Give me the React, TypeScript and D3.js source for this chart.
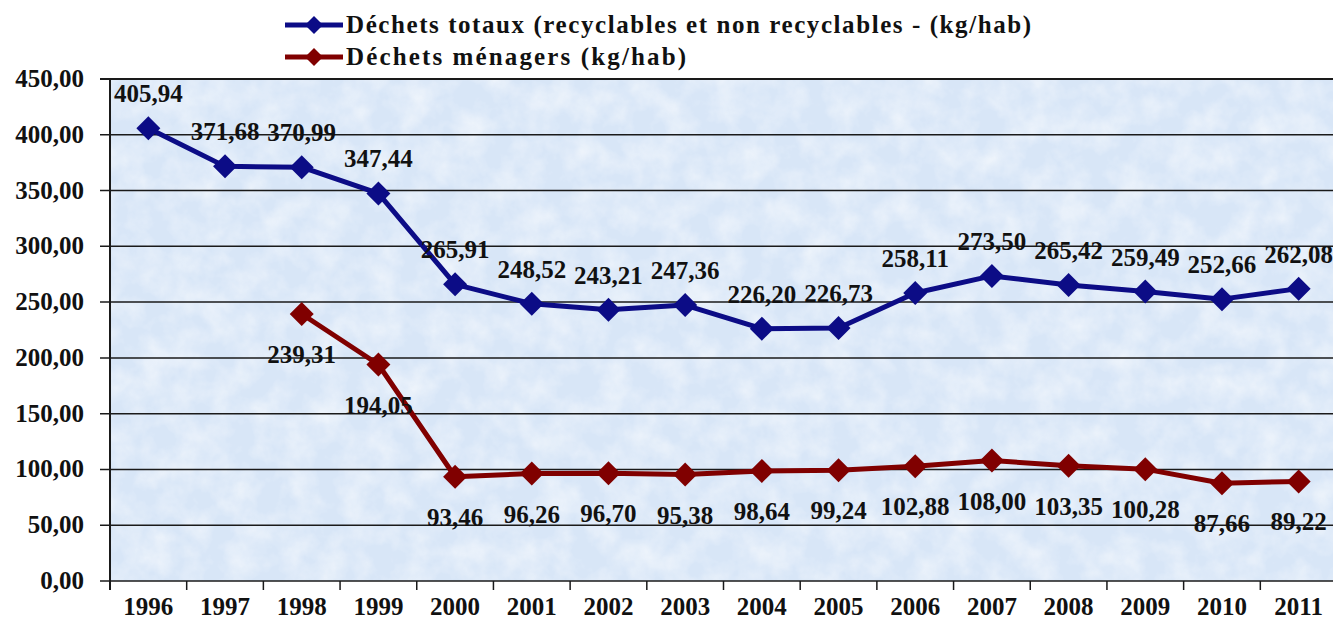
import React from 'react';
import { scaleBand, scaleLinear, line, range } from 'd3';

const years = ['1996', '1997', '1998', '1999', '2000', '2001', '2002', '2003', '2004', '2005', '2006', '2007', '2008', '2009', '2010', '2011'];
const totalWaste = [405.94, 371.68, 370.99, 347.44, 265.91, 248.52, 243.21, 247.36, 226.2, 226.73, 258.11, 273.5, 265.42, 259.49, 252.66, 262.08];
const householdWaste = [null, null, 239.31, 194.05, 93.46, 96.26, 96.7, 95.38, 98.64, 99.24, 102.88, 108.0, 103.35, 100.28, 87.66, 89.22];
const yTicks = [0, 50, 100, 150, 200, 250, 300, 350, 400, 450];
const seriesNames = ['Déchets totaux (recyclables et non recyclables - (kg/hab)', 'Déchets ménagers (kg/hab)'];

const W = 1333;
const H = 623;
const left = 110;
const right = 1337;
const top = 79;
const bottom = 581;
const font = "'Liberation Serif', 'DejaVu Serif', serif";
const blue = '#0c0c86';
const red = '#800000';

const fmt = (v: number) => v.toFixed(2).replace('.', ',');

const diamond = (cx: number, cy: number, r: number) => `M${cx},${cy - r}L${cx + r},${cy}L${cx},${cy + r}L${cx - r},${cy}Z`;

const txt: React.CSSProperties = { fontFamily: font, fontWeight: 'bold' };

export default function App() {
  const x = scaleBand<string>().domain(years).range([left, right]).padding(0);
  const y = scaleLinear().domain([0, 450]).range([bottom, top]);
  const cx = (yr: string) => (x(yr) as number) + x.bandwidth() / 2;

  const pts1 = years.map((yr, i) => ({ yr, v: totalWaste[i] }));
  const pts2 = years.map((yr, i) => ({ yr, v: householdWaste[i] })).filter((d) => d.v !== null) as { yr: string; v: number }[];

  const path = line<{ yr: string; v: number }>().x((d) => cx(d.yr)).y((d) => y(d.v));

  const series = [
    { pts: pts1, color: blue, dy: -26 },
    { pts: pts2, color: red, dy: 49 },
  ];

  // legend text widths
  const legendWidths = [685, 340];

  return (
    <svg width={W} height={H} style={{ position: 'absolute', left: 0, top: 0, background: '#fff' }}>
      <defs>
        <filter id="tex" x="0" y="0" width="100%" height="100%">
          <feTurbulence type="fractalNoise" baseFrequency="0.035" numOctaves={4} seed={3} result="n" />
          <feColorMatrix in="n" type="matrix" values="0 0 0 0 1  0 0 0 0 1  0 0 0 0 1  0 0 0 -1.6 1.05" />
        </filter>
        <clipPath id="plot">
          <rect x={left} y={top} width={W - left} height={bottom - top} />
        </clipPath>
      </defs>

      {/* plot background */}
      <rect x={left} y={top} width={W - left} height={bottom - top} fill="#d8e6f7" />
      <rect x={left} y={top} width={W - left} height={bottom - top} filter="url(#tex)" opacity={0.6} clipPath="url(#plot)" />

      {/* gridlines + y axis */}
      {yTicks.map((t) => (
        <g key={t}>
          <line x1={left - 10} x2={W} y1={y(t)} y2={y(t)} stroke="#1a1a1a" strokeWidth={t === 450 ? 2 : 1.5} />
          <text x={84} y={y(t) + 8} textAnchor="end" fontSize={25} style={txt} fill="#111">
            {fmt(t)}
          </text>
        </g>
      ))}
      <line x1={left} x2={left} y1={top} y2={bottom + 9} stroke="#1a1a1a" strokeWidth={2} />

      {/* x axis ticks and labels */}
      {range(years.length + 1).map((i) => {
        const xx = left + i * x.bandwidth();
        return <line key={i} x1={xx} x2={xx} y1={bottom} y2={bottom + 9} stroke="#1a1a1a" strokeWidth={1.5} />;
      })}
      {years.map((yr) => (
        <text key={yr} x={cx(yr)} y={615} textAnchor="middle" fontSize={25} style={txt} fill="#111">
          {yr}
        </text>
      ))}

      {/* series */}
      {series.map((s, si) => (
        <g key={si}>
          <path d={path(s.pts) as string} fill="none" stroke={s.color} strokeWidth={5} strokeLinejoin="round" />
          {s.pts.map((d) => (
            <path key={d.yr} d={diamond(cx(d.yr), y(d.v), 12)} fill={s.color} />
          ))}
          {s.pts.map((d) => (
            <text key={'l' + d.yr} x={cx(d.yr)} y={y(d.v) + s.dy} textAnchor="middle" fontSize={25} style={txt} fill="#111">
              {fmt(d.v)}
            </text>
          ))}
        </g>
      ))}

      {/* legend */}
      {seriesNames.map((name, i) => {
        const ly = 25 + i * 32;
        const c = i === 0 ? blue : red;
        return (
          <g key={name}>
            <line x1={285} x2={343} y1={ly} y2={ly} stroke={c} strokeWidth={5} />
            <path d={diamond(314, ly, 9)} fill={c} />
            <text x={346} y={ly + 8} fontSize={25} style={txt} fill="#111" textLength={legendWidths[i]} lengthAdjust="spacing">
              {name}
            </text>
          </g>
        );
      })}
    </svg>
  );
}
